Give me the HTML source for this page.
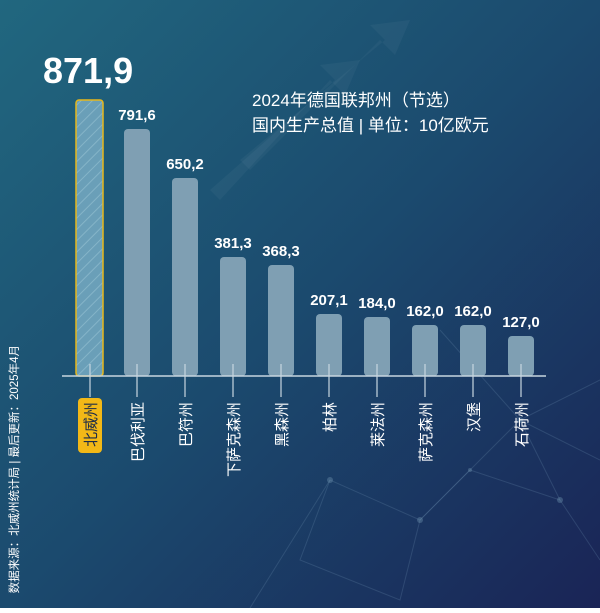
<!DOCTYPE html>
<html><head><meta charset="utf-8"><style>
body{margin:0;width:600px;height:608px;overflow:hidden;}
</style></head><body>
<svg width="600" height="608" xmlns="http://www.w3.org/2000/svg" font-family="Liberation Sans, Noto Sans CJK SC, sans-serif">
<defs>
<linearGradient id="bg" x1="0" y1="0" x2="1" y2="1">
<stop offset="0" stop-color="#21677f"/>
<stop offset="0.5" stop-color="#1b4a6e"/>
<stop offset="1" stop-color="#1a2456"/>
</linearGradient>
<pattern id="hatch" width="8" height="8" patternUnits="userSpaceOnUse" patternTransform="rotate(45)">
<rect width="8" height="8" fill="#6a9fb8"/>
<line x1="0" y1="0" x2="0" y2="8" stroke="#85b4c8" stroke-width="2"/>
</pattern>
</defs>
<rect width="600" height="608" fill="url(#bg)"/>
<g stroke="#6c90b0" stroke-opacity="0.25" stroke-width="1" fill="none">
<path d="M250 608 L330 480 L420 520 L520 420 L600 460"/>
<path d="M330 480 L300 560 L400 600 L420 520 L470 470 L560 500"/>
<path d="M520 420 L560 500 L600 560"/>
<path d="M440 330 L520 420 L600 380"/>
</g>
<g fill="#6f93ae" fill-opacity="0.4">
<circle cx="330" cy="480" r="3"/><circle cx="420" cy="520" r="3"/><circle cx="520" cy="420" r="3"/><circle cx="470" cy="470" r="2"/><circle cx="560" cy="500" r="3"/>
</g>
<g fill="#ffffff" fill-opacity="0.04">
<polygon points="220,200 330,80 345,95 360,60 320,65 335,80 210,190"/>
<polygon points="250,170 380,40 395,55 410,20 370,25 385,40 240,160"/>
</g>
<text x="43" y="83" fill="#fff" font-size="36" font-weight="bold">871,9</text>
<text x="252" y="106" fill="#fff" font-size="17">2024年德国联邦州（节选）</text>
<text x="252" y="131" fill="#fff" font-size="17">国内生产总值 | 单位：10亿欧元</text>
<rect x="76" y="100" width="27" height="276" rx="3" fill="url(#hatch)" stroke="#e8b81a" stroke-width="1.5"/>
<g fill="#7f9fb3">
<rect x="124" y="129" width="26" height="247" rx="4"/>
<rect x="172" y="178" width="26" height="198" rx="4"/>
<rect x="220" y="257" width="26" height="119" rx="4"/>
<rect x="268" y="265" width="26" height="111" rx="4"/>
<rect x="316" y="314" width="26" height="62" rx="4"/>
<rect x="364" y="317" width="26" height="59" rx="4"/>
<rect x="412" y="325" width="26" height="51" rx="4"/>
<rect x="460" y="325" width="26" height="51" rx="4"/>
<rect x="508" y="336" width="26" height="40" rx="4"/>
</g>
<g fill="#fff" font-size="15" font-weight="bold" text-anchor="middle">
<text x="137" y="120">791,6</text>
<text x="185" y="169">650,2</text>
<text x="233" y="248">381,3</text>
<text x="281" y="256">368,3</text>
<text x="329" y="305">207,1</text>
<text x="377" y="308">184,0</text>
<text x="425" y="316">162,0</text>
<text x="473" y="316">162,0</text>
<text x="521" y="327">127,0</text>
</g>
<line x1="62" y1="376" x2="546" y2="376" stroke="#c8d6e0" stroke-width="1.5"/>
<g stroke="#c8d6e0" stroke-width="1.2">
<line x1="90" y1="364" x2="90" y2="397"/><line x1="137" y1="364" x2="137" y2="397"/><line x1="185" y1="364" x2="185" y2="397"/><line x1="233" y1="364" x2="233" y2="397"/><line x1="281" y1="364" x2="281" y2="397"/><line x1="329" y1="364" x2="329" y2="397"/><line x1="377" y1="364" x2="377" y2="397"/><line x1="425" y1="364" x2="425" y2="397"/><line x1="473" y1="364" x2="473" y2="397"/><line x1="521" y1="364" x2="521" y2="397"/>
</g>
<rect x="78" y="398" width="24" height="55" rx="4" fill="#f2b817"/>
<g font-size="15" text-anchor="end">
<text transform="translate(96,402) rotate(-90)" fill="#1a2a4a">北威州</text>
<g fill="#fff">
<text transform="translate(143,402) rotate(-90)">巴伐利亚</text>
<text transform="translate(191,402) rotate(-90)">巴符州</text>
<text transform="translate(239,402) rotate(-90)">下萨克森州</text>
<text transform="translate(287,402) rotate(-90)">黑森州</text>
<text transform="translate(335,402) rotate(-90)">柏林</text>
<text transform="translate(383,402) rotate(-90)">莱法州</text>
<text transform="translate(431,402) rotate(-90)">萨克森州</text>
<text transform="translate(479,402) rotate(-90)">汉堡</text>
<text transform="translate(527,402) rotate(-90)">石荷州</text>
</g>
</g>
<text transform="translate(18,345) rotate(-90)" fill="#fff" font-size="11.5" text-anchor="end">数据来源：北威州统计局 | 最后更新：2025年4月</text>
</svg>
</body></html>
